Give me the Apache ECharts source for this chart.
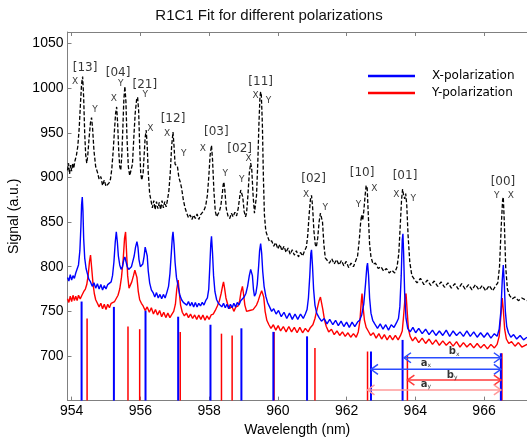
<!DOCTYPE html>
<html>
<head>
<meta charset="utf-8">
<script src="https://cdn.jsdelivr.net/npm/echarts@6/dist/echarts.min.js"></script>
<style>html,body{margin:0;padding:0;background:#fff}#c{width:527px;height:438px}</style>
</head>
<body>
<div id="c"></div>
<script>
// ---------- DATA ----------
const chartTitle = 'R1C1 Fit for different polarizations';
const xAxisName = 'Wavelength (nm)';
const yAxisName = 'Signal (a.u.)';
const seriesNames = ['X-polarization', 'Y-polarization'];

// combined spectrum (black dashed), [wavelength nm, signal]
const combinedSpectrum = [
[953.88,908],[953.91,916],[953.94,904],[953.97,914],[954.00,907],[954.03,916],[954.06,910],[954.10,919],[954.14,925],[954.18,935],
[954.22,955],[954.26,985],[954.29,1005],[954.32,1013],[954.35,990],[954.38,950],[954.41,925],[954.44,916],[954.47,925],[954.51,945],
[954.55,962],[954.58,967],[954.61,955],[954.65,930],[954.70,912],[954.75,906],[954.80,898],[954.85,901],[954.90,891],[954.95,897],
[955.00,890],[955.05,888],[955.09,894],[955.13,898],[955.17,910],[955.21,930],[955.25,955],[955.28,972],[955.31,979],[955.34,960],
[955.37,930],[955.40,912],[955.43,908],[955.46,925],[955.49,955],[955.52,988],[955.55,1002],[955.58,985],[955.61,945],[955.65,912],
[955.69,902],[955.73,900],[955.77,915],[955.81,945],[955.85,972],[955.89,987],[955.92,990],[955.95,975],[955.98,935],[956.01,905],
[956.04,897],[956.08,905],[956.11,925],[956.14,945],[956.17,953],[956.20,935],[956.23,905],[956.27,882],[956.31,874],[956.35,866],
[956.39,874],[956.43,864],[956.47,873],[956.51,865],[956.55,872],[956.59,864],[956.63,874],[956.67,866],[956.71,873],[956.75,867],
[956.79,875],[956.83,885],[956.87,905],[956.91,935],[956.95,951],[956.98,935],[957.01,915],[957.05,916],[957.08,912],[957.12,900],
[957.16,895],[957.20,888],[957.25,875],[957.30,866],[957.35,860],[957.40,855],[957.45,858],[957.50,853],[957.55,858],[957.60,854],
[957.65,859],[957.70,853],[957.75,858],[957.80,857],[957.85,863],[957.90,868],[957.95,880],[957.99,900],[958.03,925],[958.07,936],
[958.10,920],[958.14,885],[958.18,862],[958.22,856],[958.26,858],[958.30,862],[958.34,868],[958.38,880],[958.41,892],[958.43,895],
[958.46,885],[958.50,865],[958.55,857],[958.60,854],[958.65,860],[958.70,856],[958.75,861],[958.80,857],[958.85,866],[958.89,878],
[958.92,886],[958.95,888],[958.98,878],[959.02,862],[959.06,856],[959.09,860],[959.13,880],[959.17,905],[959.21,916],[959.24,910],
[959.28,880],[959.32,860],[959.35,862],[959.38,880],[959.42,920],[959.45,960],[959.48,990],[959.50,996],[959.52,992],[959.55,960],
[959.58,900],[959.61,858],[959.65,840],[959.70,834],[959.76,828],[959.82,829],[959.88,823],[959.94,827],[960.00,820],[960.06,825],
[960.12,818],[960.18,823],[960.24,816],[960.30,821],[960.36,814],[960.42,819],[960.48,813],[960.54,818],[960.60,811],[960.66,816],
[960.72,812],[960.78,818],[960.83,822],[960.87,835],[960.91,858],[960.95,876],[960.98,880],[961.01,868],[961.05,840],[961.09,825],
[961.12,822],[961.16,832],[961.20,850],[961.24,860],[961.27,862],[961.30,850],[961.34,825],[961.38,810],[961.43,808],[961.50,804],
[961.57,809],[961.64,803],[961.71,808],[961.78,802],[961.85,807],[961.92,801],[961.99,806],[962.06,799],[962.13,804],[962.20,800],
[962.26,806],[962.32,812],[962.37,830],[962.41,850],[962.44,858],[962.47,852],[962.50,862],[962.54,880],[962.57,891],[962.60,888],
[962.63,860],[962.67,825],[962.71,811],[962.77,803],[962.84,804],[962.92,798],[963.00,800],[963.08,795],[963.16,798],[963.24,793],
[963.32,796],[963.40,793],[963.47,800],[963.52,815],[963.56,845],[963.60,875],[963.63,887],[963.66,880],[963.69,876],[963.72,882],
[963.75,870],[963.79,835],[963.84,805],[963.90,790],[963.97,786],[964.05,782],[964.15,787],[964.25,780],[964.35,785],[964.45,779],
[964.55,784],[964.65,778],[964.75,783],[964.85,777],[964.95,782],[965.05,776],[965.15,781],[965.25,775],[965.35,781],[965.45,775],
[965.55,780],[965.65,774],[965.75,780],[965.85,774],[965.95,779],[966.05,773],[966.15,779],[966.25,773],[966.33,778],[966.40,782],
[966.45,800],[966.50,845],[966.54,875],[966.56,878],[966.59,850],[966.63,800],[966.68,775],[966.74,768],[966.82,764],[966.90,766],
[967.00,762],[967.10,765],[967.25,762]
];

// X-polarization spectrum (blue)
const xPolSpectrum = [
[953.88,788],[953.92,784],[953.96,791],[954.00,785],[954.04,790],[954.08,787],[954.12,793],[954.16,795],[954.20,802],[954.24,818],
[954.27,845],[954.29,870],[954.31,878],[954.33,862],[954.35,832],[954.38,810],[954.42,798],[954.46,792],[954.50,786],[954.55,783],
[954.60,778],[954.65,782],[954.70,776],[954.75,781],[954.80,775],[954.85,780],[954.90,774],[954.95,779],[955.00,775],[955.05,780],
[955.10,778],[955.15,783],[955.19,790],[955.23,805],[955.27,828],[955.30,839],[955.33,828],[955.36,812],[955.40,802],[955.44,797],
[955.48,800],[955.52,808],[955.55,811],[955.58,806],[955.62,800],[955.66,797],[955.70,798],[955.74,800],[955.78,806],[955.82,812],
[955.86,822],[955.90,828],[955.93,822],[955.96,808],[956.00,800],[956.03,798],[956.07,803],[956.11,812],[956.14,822],[956.17,824],
[956.20,812],[956.23,795],[956.27,782],[956.32,774],[956.37,771],[956.42,766],[956.47,771],[956.52,765],[956.57,769],[956.62,764],
[956.67,769],[956.72,765],[956.77,771],[956.82,778],[956.86,792],[956.90,815],[956.93,833],[956.95,839],[956.98,825],[957.01,805],
[957.05,788],[957.10,778],[957.15,768],[957.20,763],[957.25,760],[957.30,762],[957.35,757],[957.40,761],[957.45,756],[957.50,760],
[957.55,755],[957.60,760],[957.65,755],[957.70,759],[957.75,756],[957.80,760],[957.85,757],[957.90,762],[957.95,765],[957.99,775],
[958.02,800],[958.05,826],[958.07,834],[958.10,815],[958.13,790],[958.17,772],[958.22,763],[958.27,759],[958.32,761],[958.37,755],
[958.42,759],[958.47,754],[958.52,758],[958.57,753],[958.62,758],[958.67,754],[958.72,759],[958.77,755],[958.82,760],[958.87,757],
[958.92,762],[958.97,764],[959.02,766],[959.07,770],[959.12,778],[959.17,790],[959.21,797],[959.23,798],[959.26,790],[959.29,775],
[959.32,767],[959.36,770],[959.40,780],[959.44,800],[959.47,818],[959.50,826],[959.53,815],[959.56,795],[959.60,778],[959.65,767],
[959.70,760],[959.76,755],[959.82,750],[959.88,753],[959.95,747],[960.02,751],[960.10,744],[960.18,749],[960.26,742],[960.34,748],
[960.42,741],[960.50,747],[960.58,741],[960.66,747],[960.74,742],[960.80,747],[960.85,752],[960.89,765],[960.93,790],[960.96,815],
[960.98,819],[961.01,800],[961.04,775],[961.08,757],[961.13,748],[961.20,743],[961.27,739],[961.35,742],[961.43,736],[961.51,741],
[961.60,735],[961.68,740],[961.76,734],[961.84,739],[961.92,733],[962.00,738],[962.08,732],[962.16,738],[962.24,733],[962.32,738],
[962.38,740],[962.44,746],[962.50,758],[962.55,780],[962.59,800],[962.61,804],[962.64,790],[962.67,765],[962.71,748],[962.76,740],
[962.82,736],[962.90,731],[962.98,736],[963.06,730],[963.14,735],[963.22,729],[963.30,735],[963.38,732],[963.45,737],[963.51,742],
[963.55,755],[963.59,790],[963.62,830],[963.64,837],[963.66,815],[963.69,770],[963.73,742],[963.78,731],[963.85,727],[963.93,732],
[964.01,726],[964.10,731],[964.20,725],[964.30,730],[964.40,724],[964.50,729],[964.60,723],[964.70,728],[964.80,723],[964.90,729],
[965.00,722],[965.10,728],[965.20,723],[965.30,727],[965.40,722],[965.50,728],[965.60,722],[965.70,727],[965.80,721],[965.90,726],
[966.00,721],[966.10,726],[966.20,720],[966.30,725],[966.38,722],[966.44,730],[966.49,750],[966.53,785],[966.56,802],[966.59,780],
[966.62,750],[966.66,733],[966.71,726],[966.78,721],[966.86,724],[966.95,719],[967.05,723],[967.15,718],[967.25,721]
];

// Y-polarization spectrum (red)
const yPolSpectrum = [
[953.88,764],[953.92,760],[953.96,767],[954.00,761],[954.04,768],[954.08,762],[954.12,767],[954.16,762],[954.20,768],[954.25,764],
[954.30,768],[954.35,772],[954.40,775],[954.44,780],[954.48,790],[954.52,806],[954.55,813],[954.58,800],[954.62,782],[954.66,770],
[954.70,763],[954.75,759],[954.80,755],[954.85,759],[954.90,753],[954.95,758],[955.00,752],[955.05,758],[955.10,754],[955.15,759],
[955.20,760],[955.25,761],[955.30,763],[955.35,768],[955.40,775],[955.45,788],[955.50,808],[955.54,832],[955.57,839],[955.60,815],
[955.63,790],[955.67,776],[955.71,778],[955.75,783],[955.80,790],[955.84,796],[955.87,798],[955.90,788],[955.94,772],[955.98,763],
[956.03,759],[956.08,756],[956.14,751],[956.20,755],[956.26,749],[956.32,754],[956.38,747],[956.44,752],[956.50,746],[956.56,751],
[956.62,744],[956.68,749],[956.74,743],[956.80,748],[956.86,743],[956.92,747],[956.97,750],[957.02,758],[957.06,775],[957.10,785],
[957.13,772],[957.17,757],[957.22,749],[957.28,745],[957.34,748],[957.40,743],[957.46,747],[957.52,742],[957.58,746],[957.64,741],
[957.70,746],[957.76,741],[957.82,746],[957.88,740],[957.94,745],[958.00,741],[958.06,746],[958.12,747],[958.18,751],[958.24,756],
[958.30,762],[958.35,770],[958.40,780],[958.42,783],[958.45,776],[958.49,765],[958.54,758],[958.60,753],[958.66,756],[958.72,750],
[958.78,755],[958.84,756],[958.89,762],[958.93,772],[958.97,778],[959.00,770],[959.04,757],[959.09,750],[959.13,748],[959.18,751],
[959.23,753],[959.28,752],[959.33,754],[959.38,757],[959.43,762],[959.48,768],[959.53,773],[959.56,774],[959.59,766],[959.63,750],
[959.68,740],[959.74,735],[959.80,731],[959.87,735],[959.94,729],[960.01,734],[960.08,728],[960.16,733],[960.24,727],[960.32,733],
[960.40,727],[960.48,732],[960.56,726],[960.64,732],[960.72,726],[960.80,731],[960.88,727],[960.95,732],[961.02,735],[961.08,742],
[961.14,752],[961.20,762],[961.24,766],[961.27,764],[961.31,752],[961.36,740],[961.41,733],[961.48,727],[961.56,730],[961.64,724],
[961.72,728],[961.80,723],[961.88,727],[961.96,722],[962.04,726],[962.12,721],[962.20,725],[962.28,721],[962.34,727],[962.39,740],
[962.43,762],[962.45,770],[962.48,755],[962.52,740],[962.57,732],[962.63,728],[962.70,723],[962.78,726],[962.86,720],[962.94,725],
[963.02,719],[963.10,724],[963.18,718],[963.26,723],[963.34,718],[963.42,723],[963.50,718],[963.57,723],[963.62,728],[963.66,745],
[963.70,765],[963.73,770],[963.76,752],[963.80,730],[963.85,722],[963.92,717],[964.00,721],[964.10,715],[964.20,720],[964.30,714],
[964.40,719],[964.50,713],[964.60,718],[964.70,712],[964.80,717],[964.90,712],[965.00,716],[965.10,711],[965.20,716],[965.30,710],
[965.40,715],[965.50,710],[965.60,714],[965.70,709],[965.80,714],[965.90,709],[966.00,713],[966.10,708],[966.20,713],[966.30,709],
[966.38,713],[966.44,722],[966.49,745],[966.53,765],[966.56,752],[966.60,730],[966.65,719],[966.72,714],[966.80,716],[966.90,711],
[967.00,715],[967.10,710],[967.25,713]
];

// fitted line positions (sticks), wavelength and stick height
const xStickWl  = [954.29, 955.23, 956.15, 957.10, 958.04, 958.94, 959.87, 960.85, 962.71, 963.63, 966.49];
const xStickTop = [761, 755, 751, 744, 735, 731, 727, 722, 705, 718, 703];
const yStickWl  = [954.45, 955.64, 955.98, 957.16, 958.36, 958.67, 959.89, 961.08, 962.61, 963.77, 966.52];
const yStickTop = [742, 733, 730, 727, 725, 723, 727, 709, 705, 701, 703];

// peak annotations: text, wavelength, signal
const peakLabels = [
['[13]',954.39,1022.9],['X',954.10,1007.2],['Y',954.68,975.5],
['[04]',955.35,1017.7],['X',955.23,987.8],['Y',955.43,1005.4],
['[21]',956.13,1003.5],['Y',956.14,992.3],['X',956.29,954.2],
['[12]',956.95,966.2],['X',956.78,949.3],['Y',957.26,926.2],
['[03]',958.21,951.2],['X',957.82,932.6],['Y',958.47,904.6],
['[02]',958.89,932.6],['Y',958.95,897.9],['X',959.15,921.4],
['[11]',959.50,1007.2],['X',959.35,991.2],['Y',959.73,985.9],
['[02]',961.04,897.9],['X',960.82,880.3],['Y',961.38,866.1],
['[10]',962.45,905.7],['Y',962.35,869.1],['X',962.81,887.8],
['[01]',963.70,901.6],['X',963.45,881.2],['Y',963.94,875.8],
['[00]',966.55,895.2],['Y',966.37,879.5],['X',966.78,879.5]
];

// spacing arrows: name, subscript, start wl, end wl, level, label wl, label level
const arrowNames  = ['b', 'a', 'b', 'a'];
const arrowSubs   = ['x', 'x', 'y', 'y'];
const arrowStart  = [963.67, 962.71, 963.77, 962.61];
const arrowEnd    = [966.49, 966.49, 966.49, 966.49];
const arrowLevel  = [698, 685, 673, 662];
const arrowLabelWl  = [965.13, 964.31, 965.07, 964.31];
const arrowLabelSig = [704.8, 691.8, 678.7, 668.6];

// ---------- CHART ----------
const BLUE = '#0000ff', RED = '#ff0000';
const arrowColors = ['#2a4dff', '#2a4dff', '#ff3a3a', '#ff9a9a'];
const chart = echarts.init(document.getElementById('c'), null, {renderer: 'canvas'});

function stickSeries(wl, top, color, width, name) {
  return {
    type: 'custom', name: name, coordinateSystem: 'cartesian2d', silent: true, z: 1,
    data: wl.map((w, i) => [w, top[i]]),
    renderItem: function (params, api) {
      const p1 = api.coord([api.value(0), 650]);
      const p2 = api.coord([api.value(0), api.value(1)]);
      return {type: 'line', shape: {x1: p1[0], y1: p1[1], x2: p2[0], y2: p2[1]},
        style: {stroke: color, lineWidth: width}};
    }
  };
}

const axisGray = '#808080';
const option = {
  animation: false,
  backgroundColor: '#ffffff',
  graphic: [{
    type: 'text', x: 269, y: 16,
    style: {text: chartTitle, fontFamily: 'Liberation Sans', fontSize: 15, fill: '#111',
      align: 'center', verticalAlign: 'middle'}
  }],
  legend: {
    left: 368, top: 69, orient: 'vertical', padding: 0, itemGap: 3,
    itemWidth: 47, itemHeight: 2.5, icon: 'rect',
    textStyle: {fontFamily: 'DejaVu Sans', fontSize: 12, color: '#000', lineHeight: 14, padding: [0, 0, 0, 12]},
    data: seriesNames
  },
  grid: {left: 67.5, right: 0, top: 32, bottom: 37.4, containLabel: false, outerBoundsMode: 'none'},
  xAxis: [{
    type: 'value', min: 953.88, max: 967.25, splitNumber: 7,
    name: xAxisName, nameLocation: 'middle', nameGap: 19,
    nameTextStyle: {fontFamily: 'Liberation Sans', fontSize: 14, color: '#000'},
    axisLine: {show: true, lineStyle: {color: axisGray, width: 1}},
    axisTick: {show: true, inside: true, length: 4, lineStyle: {color: axisGray}},
    axisLabel: {margin: 4, fontFamily: 'Liberation Sans', fontSize: 14, color: '#000',
      formatter: v => (Math.abs(v - Math.round(v)) < 1e-6 && Math.round(v) % 2 === 0) ? String(Math.round(v)) : ''},
    splitLine: {show: false}
  }, {
    type: 'value', position: 'top', min: 953.88, max: 967.25, splitNumber: 7,
    axisLine: {show: true, lineStyle: {color: axisGray, width: 1}},
    axisTick: {show: true, inside: true, length: 4, lineStyle: {color: axisGray}},
    axisLabel: {show: false}, splitLine: {show: false}
  }],
  yAxis: [{
    type: 'value', min: 650, max: 1063, interval: 50,
    name: yAxisName, nameLocation: 'middle', nameGap: 33, nameRotate: 90,
    nameTextStyle: {fontFamily: 'Liberation Sans', fontSize: 14, color: '#000'},
    axisLine: {show: true, lineStyle: {color: axisGray, width: 1}},
    axisTick: {show: true, inside: true, length: 4, lineStyle: {color: axisGray}},
    axisLabel: {margin: 4, fontFamily: 'Liberation Sans', fontSize: 14, color: '#000',
      formatter: v => (v >= 700 && v <= 1050 && v % 50 === 0) ? String(v) : ''},
    splitLine: {show: false}
  }],
  series: [
    {
      name: 'combined', type: 'line', symbol: 'none', data: combinedSpectrum, z: 2,
      lineStyle: {color: '#000', width: 1.3, type: [4, 2]}, silent: true
    },
    {
      name: seriesNames[1], type: 'line', symbol: 'none', data: yPolSpectrum, z: 3,
      color: RED, lineStyle: {color: RED, width: 1.4}, silent: true
    },
    {
      name: seriesNames[0], type: 'line', symbol: 'none', data: xPolSpectrum, z: 4,
      color: BLUE, lineStyle: {color: BLUE, width: 1.4}, silent: true
    },
    stickSeries(yStickWl, yStickTop, RED, 1.5, 'ySticks'),
    stickSeries(xStickWl, xStickTop, BLUE, 2, 'xSticks'),
    {
      type: 'custom', name: 'arrows', coordinateSystem: 'cartesian2d', silent: true, z: 5,
      data: arrowStart.map((s, i) => [s, arrowEnd[i], arrowLevel[i]]),
      renderItem: function (params, api) {
        const c = arrowColors[params.dataIndex];
        const s = api.coord([api.value(0), api.value(2)]);
        const e = api.coord([api.value(1), api.value(2)]);
        const st = {stroke: c, lineWidth: 1.5, fill: null};
        return {type: 'group', children: [
          {type: 'line', shape: {x1: s[0], y1: s[1], x2: e[0], y2: e[1]}, style: st},
          {type: 'polyline', shape: {points: [[s[0] + 7, s[1] - 5], [s[0], s[1]], [s[0] + 7, s[1] + 5]]}, style: st},
          {type: 'polyline', shape: {points: [[e[0] - 7, e[1] - 5], [e[0], e[1]], [e[0] - 7, e[1] + 5]]}, style: st}
        ]};
      }
    },
    {
      type: 'scatter', name: 'peakLabels', symbolSize: 0, silent: true, z: 6,
      data: peakLabels.map(p => ({
        name: p[0], value: [p[1], p[2]],
        label: {fontSize: p[0].startsWith('[') ? 12 : 9}
      })),
      label: {show: true, position: 'inside', formatter: '{b}', fontFamily: 'DejaVu Sans', color: '#000'}
    },
    {
      type: 'scatter', name: 'arrowLabels', symbolSize: 0, silent: true, z: 6,
      data: arrowNames.map((n, i) => ({name: n + '|' + arrowSubs[i], value: [arrowLabelWl[i], arrowLabelSig[i]]})),
      label: {
        show: true, position: 'inside', color: '#000',
        formatter: p => { const t = p.name.split('|'); return '{m|' + t[0] + '}{s|' + t[1] + '}'; },
        rich: {
          m: {fontFamily: 'DejaVu Sans', fontSize: 10, fontWeight: 'bold', color: '#000'},
          s: {fontFamily: 'DejaVu Sans', fontSize: 6, color: '#000', padding: [5, 0, 0, 0]}
        }
      }
    }
  ]
};
chart.setOption(option);
</script>
</body>
</html>
